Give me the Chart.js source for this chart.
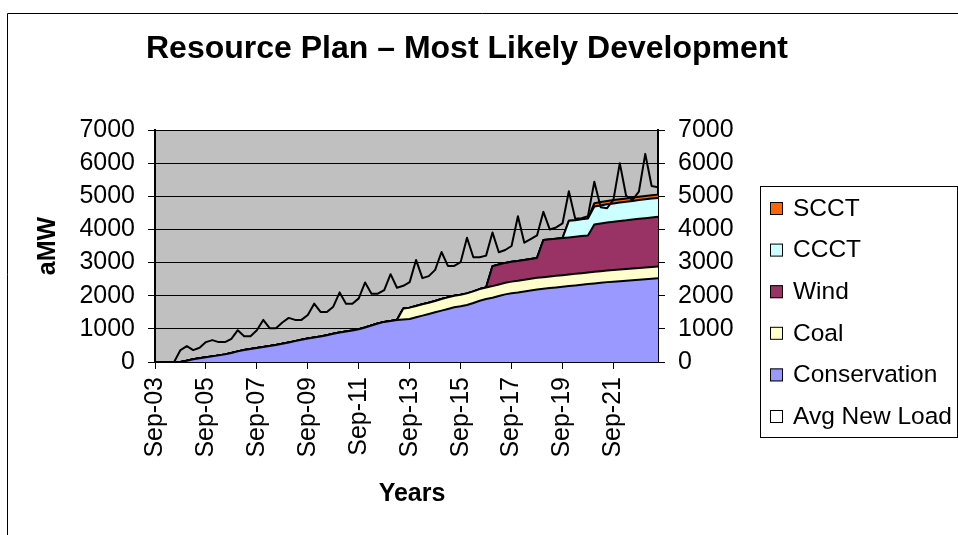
<!DOCTYPE html>
<html>
<head>
<meta charset="utf-8">
<script src="https://cdn.jsdelivr.net/npm/chart.js@4.4.0/dist/chart.umd.min.js"></script>
<style>
html, body { margin: 0; padding: 0; background: #fff; }
</style>
</head>
<body>
<canvas id="chart" width="958" height="535"></canvas>
<script>
// quarterly points, Sep-03 .. Jun-23
const months = ['Sep', 'Dec', 'Mar', 'Jun'];
const quarters = [];
for (let i = 0; i < 80; i++) {
    let m = months[i % 4];
    let yr = 3 + Math.floor((i + 1) / 4);
    quarters.push(m + '-' + String(yr).padStart(2, '0'));
}
const tickLabels = ['Sep-03', 'Sep-05', 'Sep-07', 'Sep-09', 'Sep-11', 'Sep-13', 'Sep-15', 'Sep-17', 'Sep-19', 'Sep-21'];

const avgNewLoad = [
    0, 0, 0, 0, 360, 480, 360, 430, 600, 660,
    600, 600, 700, 960, 780, 780, 960, 1270, 1020, 1020,
    1190, 1330, 1270, 1270, 1420, 1760, 1510, 1510, 1670, 2100,
    1760, 1760, 1920, 2400, 2060, 2060, 2170, 2650, 2240, 2300,
    2410, 3080, 2530, 2590, 2780, 3320, 2900, 2900, 3010, 3750,
    3160, 3160, 3210, 3910, 3310, 3380, 3500, 4400, 3600, 3710,
    3820, 4530, 4000, 4060, 4180, 5150, 4320, 4340, 4400, 5440,
    4670, 4640, 4890, 6000, 5010, 4890, 5140, 6280, 5310, 5270
];
const conservation = [
    0, 0, 0, 0, 0, 40, 80, 110, 140, 170,
    200, 230, 270, 320, 360, 390, 420, 450, 480, 510,
    550, 590, 630, 670, 710, 740, 770, 810, 850, 890,
    920, 950, 990, 1040, 1100, 1160, 1210, 1240, 1265, 1285,
    1300, 1350, 1400, 1450, 1500, 1550, 1600, 1650, 1680, 1720,
    1780, 1850, 1900, 1940, 1990, 2040, 2075, 2100, 2130, 2160,
    2190, 2210, 2230, 2250, 2270, 2290, 2310, 2330, 2350, 2370,
    2390, 2410, 2425, 2440, 2455, 2470, 2485, 2500, 2515, 2530
];
const coal = [
    0, 0, 0, 0, 0, 0, 0, 0, 0, 0,
    0, 0, 0, 0, 0, 0, 0, 0, 0, 0,
    0, 0, 0, 0, 0, 0, 0, 0, 0, 0,
    0, 0, 0, 0, 0, 0, 0, 0, 0, 330,
    340, 340, 340, 340, 340, 350, 350, 350, 350, 350,
    350, 350, 350, 350, 350, 350, 350, 350, 350, 350,
    350, 350, 350, 350, 350, 350, 350, 350, 350, 350,
    350, 350, 350, 350, 350, 350, 350, 350, 350, 350
];
const wind = [
    0, 0, 0, 0, 0, 0, 0, 0, 0, 0,
    0, 0, 0, 0, 0, 0, 0, 0, 0, 0,
    0, 0, 0, 0, 0, 0, 0, 0, 0, 0,
    0, 0, 0, 0, 0, 0, 0, 0, 0, 0,
    0, 0, 0, 0, 0, 0, 0, 0, 0, 0,
    0, 0, 0, 600, 600, 600, 600, 600, 600, 600,
    600, 1120, 1120, 1120, 1120, 1120, 1120, 1120, 1120, 1430,
    1440, 1450, 1460, 1465, 1470, 1480, 1485, 1490, 1495, 1500
];
const ccct = [
    0, 0, 0, 0, 0, 0, 0, 0, 0, 0,
    0, 0, 0, 0, 0, 0, 0, 0, 0, 0,
    0, 0, 0, 0, 0, 0, 0, 0, 0, 0,
    0, 0, 0, 0, 0, 0, 0, 0, 0, 0,
    0, 0, 0, 0, 0, 0, 0, 0, 0, 0,
    0, 0, 0, 0, 0, 0, 0, 0, 0, 0,
    0, 0, 0, 0, 0, 500, 500, 510, 510, 540,
    545, 550, 550, 555, 560, 560, 565, 570, 570, 570
];
const scct = [
    0, 0, 0, 0, 0, 0, 0, 0, 0, 0,
    0, 0, 0, 0, 0, 0, 0, 0, 0, 0,
    0, 0, 0, 0, 0, 0, 0, 0, 0, 0,
    0, 0, 0, 0, 0, 0, 0, 0, 0, 0,
    0, 0, 0, 0, 0, 0, 0, 0, 0, 0,
    0, 0, 0, 0, 0, 0, 0, 0, 0, 0,
    0, 0, 0, 0, 0, 0, 0, 0, 0, 100,
    100, 100, 100, 100, 100, 100, 100, 100, 100, 100
];

const FONT = '"Liberation Sans", Arial, sans-serif';
Chart.defaults.font.family = FONT;
Chart.defaults.color = '#000';

function area(label, data, color, fill){
    return {
        label: label,
        data: data,
        stack: 'res',
        backgroundColor: color,
        borderColor: '#000',
        borderWidth: 2,
        fill: fill,
        pointRadius: 0,
        legendColor: color
    };
}

// title, axis titles, legend and frame
const decor = {
    id: 'decor',
    beforeDraw(chart){
        const {ctx, chartArea} = chart;
        ctx.save();
        ctx.fillStyle = '#fff';
        ctx.fillRect(0, 0, chart.width, chart.height);
        ctx.fillStyle = '#C0C0C0';
        ctx.fillRect(chartArea.left, chartArea.top, chartArea.right - chartArea.left, chartArea.bottom - chartArea.top);
        ctx.restore();
    },
    afterDraw(chart){
        const ctx = chart.ctx;
        ctx.save();
        // frame
        ctx.strokeStyle = '#000';
        ctx.lineWidth = 1;
        ctx.beginPath();
        ctx.moveTo(7.5, 535);
        ctx.lineTo(7.5, 13.5);
        ctx.lineTo(958, 13.5);
        ctx.stroke();

        ctx.fillStyle = '#000';
        ctx.textAlign = 'center';
        ctx.textBaseline = 'middle';
        ctx.font = 'bold 32px ' + FONT;
        ctx.fillText('Resource Plan \u2013 Most Likely Development', 467, 49);

        ctx.font = 'bold 25px ' + FONT;
        ctx.fillText('Years', 412, 494);
        ctx.save();
        ctx.translate(48, 246);
        ctx.rotate(-Math.PI / 2);
        ctx.fillText('aMW', 0, 0);
        ctx.restore();

        // legend
        ctx.strokeStyle = '#000';
        ctx.lineWidth = 1;
        ctx.strokeRect(760.5, 186.5, 197, 251);
        ctx.textAlign = 'left';
        ctx.font = '24.5px ' + FONT;
        let sets = chart.data.datasets.slice().reverse();
        sets.forEach((ds, i) => {
            let y = 208 + i * 41.6;
            ctx.fillStyle = ds.legendColor;
            ctx.fillRect(770, y - 6, 13, 13);
            ctx.strokeRect(770.5, y - 5.5, 12, 12);
            ctx.fillStyle = '#000';
            ctx.fillText(ds.label, 793, y + 1);
        });
        ctx.restore();
    }
};

const yTicks = {stepSize: 1000, font: {size: 25}, padding: 13, callback: v => String(v)};

new Chart(document.getElementById('chart'), {
    type: 'line',
    data: {
        labels: quarters,
        datasets: [
            {
                label: 'Avg New Load',
                data: avgNewLoad,
                stack: 'load',
                borderColor: '#000',
                borderWidth: 2,
                fill: false,
                pointRadius: 0,
                legendColor: '#fff'
            },
            area('Conservation', conservation, '#9999FF', 'origin'),
            area('Coal', coal, '#FFFFCC', '-1'),
            area('Wind', wind, '#993366', '-1'),
            area('CCCT', ccct, '#CCFFFF', '-1'),
            area('SCCT', scct, '#FF6600', '-1')
        ]
    },
    options: {
        responsive: false,
        animation: false,
        events: [],
        layout: {padding: {left: 55, top: 130, right: 200, bottom: 53}},
        elements: {line: {tension: 0, borderJoinStyle: 'round'}},
        plugins: {
            legend: {display: false},
            title: {display: false},
            tooltip: {enabled: false}
        },
        scales: {
            x: {
                grid: {
                    drawOnChartArea: false,
                    tickLength: 7,
                    color: c => (c.index % 8 === 0 ? '#000' : 'rgba(0,0,0,0)')
                },
                border: {color: '#000', width: 2},
                ticks: {
                    autoSkip: false,
                    maxRotation: 90,
                    minRotation: 90,
                    padding: 8,
                    font: {size: 25},
                    callback: (v, i) => (tickLabels.includes(quarters[i]) ? quarters[i] : '')
                },
                afterFit: s => { s.height = 120; }
            },
            y: {
                stacked: true,
                min: 0,
                max: 7000,
                ticks: yTicks,
                grid: {color: '#000', tickLength: 7},
                border: {color: '#000', width: 2},
                afterFit: s => { s.width = 100; }
            },
            y2: {
                position: 'right',
                min: 0,
                max: 7000,
                ticks: yTicks,
                grid: {drawOnChartArea: false, color: '#000', tickLength: 7},
                border: {color: '#000', width: 2},
                afterFit: s => { s.width = 100; }
            }
        }
    },
    plugins: [decor]
});
</script>
</body>
</html>
